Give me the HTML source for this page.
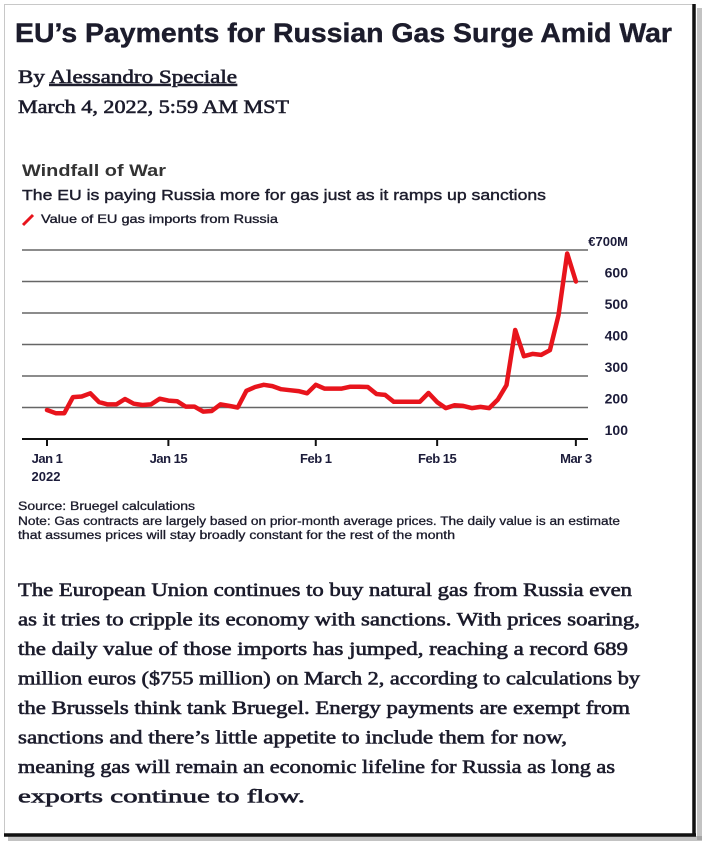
<!DOCTYPE html>
<html><head><meta charset="utf-8"><style>
html,body{margin:0;padding:0;background:#fff;}
svg{display:block;}
.sans{font-family:"Liberation Sans",Arial,sans-serif;}
.serif{font-family:"Liberation Serif","DejaVu Serif",serif;}
</style></head><body>
<svg id="page" width="709" height="850" viewBox="0 0 709 850">
  <rect x="0" y="0" width="709" height="850" fill="#fff"/>
  <rect x="697" y="8" width="5" height="832" fill="#888" opacity="0.5"/>
  <rect x="8" y="836" width="694" height="5" fill="#888" opacity="0.5"/>
  <rect x="4.5" y="4.5" width="690" height="830" fill="#fff" stroke="#c8c8c8" stroke-width="1"/>
  <line x1="694" y1="4" x2="694" y2="836" stroke="#111" stroke-width="3.5"/>
  <line x1="4" y1="835" x2="696" y2="835" stroke="#111" stroke-width="3.5"/>

  <g fill="#1c1c2c">
    <text class="sans" x="15" y="42" font-size="27" font-weight="bold" textLength="657" lengthAdjust="spacingAndGlyphs" stroke="#1c1c2c" stroke-width="0.4">EU’s Payments for Russian Gas Surge Amid War</text>
    <text class="serif" x="18" y="83" font-size="19" textLength="219" lengthAdjust="spacingAndGlyphs" stroke="#1c1c2c" stroke-width="0.6">By <tspan text-decoration="underline">Alessandro Speciale</tspan></text>
    <text class="serif" x="18" y="113" font-size="19" textLength="271" lengthAdjust="spacingAndGlyphs" stroke="#1c1c2c" stroke-width="0.6">March 4, 2022, 5:59 AM MST</text>

    <text class="sans" x="22" y="176" font-size="17" font-weight="bold" textLength="144" lengthAdjust="spacingAndGlyphs" fill="#333">Windfall of War</text>
    <text class="sans" x="22" y="200" font-size="15" textLength="524" lengthAdjust="spacingAndGlyphs" stroke="#1c1c2c" stroke-width="0.4">The EU is paying Russia more for gas just as it ramps up sanctions</text>
    <line x1="23" y1="225" x2="33" y2="215" stroke="#e8141c" stroke-width="3"/>
    <text class="sans" x="41" y="223" font-size="12" textLength="237" lengthAdjust="spacingAndGlyphs" stroke="#1c1c2c" stroke-width="0.35">Value of EU gas imports from Russia</text>
  </g>

  <g id="chart"></g>

  <g fill="#1c1c2c" class="sans" stroke="#1c1c2c" stroke-width="0.3">
    <text class="sans" x="18" y="510" font-size="11.5" textLength="177" lengthAdjust="spacingAndGlyphs">Source: Bruegel calculations</text>
    <text class="sans" x="18" y="525" font-size="11.5" textLength="602" lengthAdjust="spacingAndGlyphs">Note: Gas contracts are largely based on prior-month average prices. The daily value is an estimate</text>
    <text class="sans" x="18" y="539" font-size="11.5" textLength="437" lengthAdjust="spacingAndGlyphs">that assumes prices will stay broadly constant for the rest of the month</text>
  </g>

  <g fill="#1c1c2c" class="serif" font-size="18.5" stroke="#1c1c2c" stroke-width="0.6">
    <text class="serif" x="18" y="596" textLength="614" lengthAdjust="spacingAndGlyphs">The European Union continues to buy natural gas from Russia even</text>
    <text class="serif" x="18" y="625.5" textLength="622" lengthAdjust="spacingAndGlyphs">as it tries to cripple its economy with sanctions. With prices soaring,</text>
    <text class="serif" x="18" y="655" textLength="610" lengthAdjust="spacingAndGlyphs">the daily value of those imports has jumped, reaching a record 689</text>
    <text class="serif" x="18" y="684.5" textLength="622" lengthAdjust="spacingAndGlyphs">million euros ($755 million) on March 2, according to calculations by</text>
    <text class="serif" x="18" y="714" textLength="612" lengthAdjust="spacingAndGlyphs">the Brussels think tank Bruegel. Energy payments are exempt from</text>
    <text class="serif" x="18" y="743.5" textLength="549" lengthAdjust="spacingAndGlyphs">sanctions and there’s little appetite to include them for now,</text>
    <text class="serif" x="18" y="773" textLength="597" lengthAdjust="spacingAndGlyphs">meaning gas will remain an economic lifeline for Russia as long as</text>
    <text class="serif" x="18" y="802.5" textLength="287" lengthAdjust="spacingAndGlyphs">exports continue to flow.</text>
  </g>
</svg>
<script>
const values = [192,182,182,233,235,245,217,210,210,227,212,208,210,228,222,220,203,203,187,189,210,205,200,253,265,272,268,258,255,252,245,272,260,260,260,266,266,265,243,240,218,218,218,218,246,217,198,207,205,198,202,198,225,271,446,363,370,367,382,493,689,600];
const yTicks = [100,200,300,400,500,600,700];
const yTickLabels = ["100","200","300","400","500","600","€700M"];
const xTickDays = [0,14,31,45,61];
const xTickLabels = ["Jan 1","Jan 15","Feb 1","Feb 15","Mar 3"];

const NS = "http://www.w3.org/2000/svg";
const g = document.getElementById('chart');
const x0 = 47, dayW = 8.67;
const yBase = 439, pxPer100 = 31.5;
function xs(d){ return x0 + d*dayW; }
function ys(v){ return yBase - (v-100)/100*pxPer100; }
function mk(tag, attrs){ const e=document.createElementNS(NS,tag); for(const k in attrs) e.setAttribute(k,attrs[k]); g.appendChild(e); return e; }

yTicks.forEach((t,i)=>{
  const l = mk('line',{x1:22,x2:588,y1:ys(t),y2:ys(t),stroke:i===0?'#111':'#666','stroke-width':i===0?2:1.6});
  
  
  const tx = mk('text',{x:628,y:ys(t)-4,'text-anchor':'end','font-size':14,'font-weight':'bold',fill:'#1c1c3a','font-family':'"Liberation Sans",Arial,sans-serif'});
  tx.textContent = yTickLabels[i];
  
  
  if(i===yTicks.length-1){ tx.setAttribute('font-size','13'); }
});

xTickDays.forEach((d,i)=>{
  const tk = mk('line',{x1:xs(d),x2:xs(d),y1:440,y2:446,stroke:'#111','stroke-width':2});
  
  
  const tx = mk('text',{x:xs(d),y:463,'text-anchor':'middle','font-size':13,'font-weight':'bold',fill:'#1c1c3a','font-family':'"Liberation Sans",Arial,sans-serif','letter-spacing':'-0.5'});
  tx.textContent = xTickLabels[i];
  
  
});
const yr = mk('text',{x:xs(0)-1,y:481,'text-anchor':'middle','font-size':13,'font-weight':'bold',fill:'#1c1c3a','font-family':'"Liberation Sans",Arial,sans-serif'});
yr.textContent = "2022";



const pts = values.map((v,i)=>xs(i).toFixed(1)+','+ys(v).toFixed(1)).join(' ');
const pl = mk('polyline',{points:pts,fill:'none',stroke:'#e8141c','stroke-width':4.5,'stroke-linejoin':'round','stroke-linecap':'round'});


</script>
</body></html>
